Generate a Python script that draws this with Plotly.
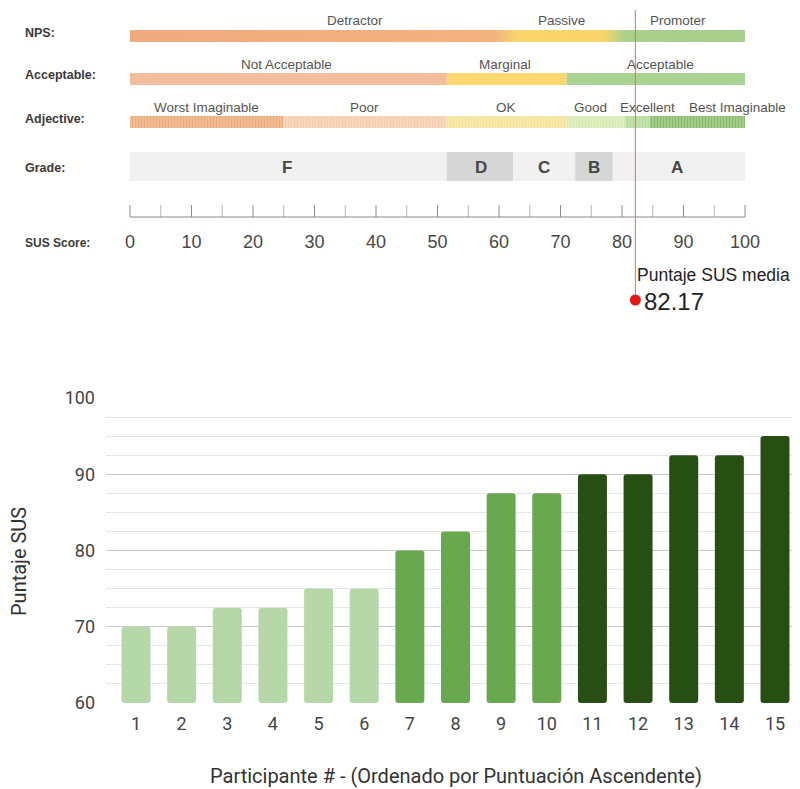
import plotly.graph_objects as go

# ---------------- data ----------------
participants = list(range(1, 16))
sus_scores = [70, 70, 72.5, 72.5, 75, 75, 80, 82.5, 87.5, 87.5, 90, 90, 92.5, 92.5, 95]
bar_colors = ["#B6D7A8"] * 6 + ["#6AA84F"] * 4 + ["#274E13"] * 5
mean_score = round(sum(sus_scores) / len(sus_scores), 2)

scale_ticks_major = list(range(0, 101, 10))
scale_ticks_minor = list(range(5, 100, 10))

nps_labels = ["Detractor", "Passive", "Promoter"]
nps_label_pos = [36.6, 70.1, 89.1]

acc_labels = ["Not Acceptable", "Marginal", "Acceptable"]
acc_start = [0, 51.5, 71]
acc_end = [51.5, 71, 100]
acc_label_pos = [25.5, 61.0, 86.3]
acc_colors = ["#F3BC9A", "#F9D873", "#AAD290"]

adj_labels = ["Worst Imaginable", "Poor", "OK", "Good", "Excellent", "Best Imaginable"]
adj_start = [0, 25, 51.5, 71, 80.5, 84.5]
adj_end = [25, 51.5, 71, 80.5, 84.5, 100]
adj_label_pos = [12.5, 38.2, 61.1, 74.8, 84.1, 98.7]
adj_bg = ["#F2BE98", "#F8D9C2", "#F7EAB0", "#E3EFC4", "#C6E2AE", "#A5CF8C"]
adj_fg = ["#E39A68", "#F1BF9A", "#EFD77E", "#CFE3A6", "#A9D38C", "#6FA653"]

grade_labels = ["F", "D", "C", "B", "A"]
grade_start = [0, 51.5, 62.3, 72.4, 78.5]
grade_end = [51.5, 62.3, 72.4, 78.5, 100]
grade_label_pos = [25.6, 57.0, 67.3, 75.4, 89.0]
grade_colors = ["#F1F1F1", "#D6D6D6", "#F1F1F1", "#D6D6D6", "#F1F1F1"]

row_labels = ["NPS:", "Acceptable:", "Adjective:", "Grade:", "SUS Score:"]

# ---------------- layout geometry (screen pixels) ----------------
OFF = 8                     # default page body margin (top/left)
W, H = 800 - 2 * OFF, 789 - OFF


def px_x(px):
    return (px - OFF) / W


def px_y(py):
    return 1 - (py - OFF) / H


row_y = {"nps": 36, "acc": 79, "adj": 122, "grade": 166.5}
row_h = {"nps": 12, "acc": 12, "adj": 12, "grade": 29}
row_label_y = [33, 75, 119, 168, 243]
band_label_y = {"nps": 20, "acc": 64, "adj": 107}

fig = go.Figure()

# ---------------- bottom bar chart ----------------
fig.add_trace(go.Bar(
    x=participants, y=[s - 60 for s in sus_scores], base=60,
    marker=dict(color=bar_colors, line=dict(width=0), cornerradius=3),
    width=0.635, xaxis="x", yaxis="y", hoverinfo="skip", showlegend=False,
))

# ---------------- top SUS scale ----------------
nps_x = [0, 100, 100, 0, 0]
y0n, y1n = row_y["nps"] - row_h["nps"] / 2, row_y["nps"] + row_h["nps"] / 2
nps_y = [y0n, y0n, y1n, y1n, y0n]
fig.add_trace(go.Scatter(
    x=nps_x, y=nps_y, mode="lines", fill="toself", line=dict(width=0),
    fillgradient=dict(type="horizontal", start=0, stop=100, colorscale=[
        [0.0, "#EFAB7E"], [0.59, "#F3B27E"], [0.63, "#F9D56A"],
        [0.77, "#FAD468"], [0.805, "#A9D18C"], [1.0, "#A7CF8B"]]),
    xaxis="x2", yaxis="y2", hoverinfo="skip", showlegend=False,
))

for s, e, c in zip(acc_start, acc_end, acc_colors):
    fig.add_trace(go.Bar(
        y=[row_y["acc"]], x=[e - s], base=s, orientation="h", width=row_h["acc"],
        marker=dict(color=c, line=dict(width=0)),
        xaxis="x2", yaxis="y2", hoverinfo="skip", showlegend=False,
    ))

for s, e, bg, fg in zip(adj_start, adj_end, adj_bg, adj_fg):
    fig.add_trace(go.Bar(
        y=[row_y["adj"]], x=[e - s], base=s, orientation="h", width=row_h["adj"],
        marker=dict(color=bg, line=dict(width=0),
                    pattern=dict(shape="|", fgcolor=fg, bgcolor=bg, size=3, solidity=0.45)),
        xaxis="x2", yaxis="y2", hoverinfo="skip", showlegend=False,
    ))

for s, e, c in zip(grade_start, grade_end, grade_colors):
    fig.add_trace(go.Bar(
        y=[row_y["grade"]], x=[e - s], base=s, orientation="h", width=row_h["grade"],
        marker=dict(color=c, line=dict(width=0)),
        xaxis="x2", yaxis="y2", hoverinfo="skip", showlegend=False,
    ))

for ticks, col in ((scale_ticks_minor, "#B8B8B8"), (scale_ticks_major, "#8A8A8A")):
    tx, ty = [], []
    for v in ticks:
        tx += [v, v, None]
        ty += [205, 217, None]
    fig.add_trace(go.Scatter(
        x=tx, y=ty, mode="lines", line=dict(color=col, width=1),
        xaxis="x2", yaxis="y2", hoverinfo="skip", showlegend=False,
    ))
fig.add_trace(go.Scatter(
    x=[scale_ticks_major[0], scale_ticks_major[-1]], y=[217, 217], mode="lines",
    line=dict(color="#8A8A8A", width=1),
    xaxis="x2", yaxis="y2", hoverinfo="skip", showlegend=False,
))
fig.add_trace(go.Scatter(
    x=scale_ticks_major, y=[243] * len(scale_ticks_major), mode="text",
    text=[str(v) for v in scale_ticks_major],
    textfont=dict(family="Liberation Sans Narrow, Arial Narrow, sans-serif", size=18, color="#484848"),
    xaxis="x2", yaxis="y2", hoverinfo="skip", showlegend=False,
))

fig.add_trace(go.Scatter(
    x=[mean_score, mean_score], y=[10, 300], mode="lines",
    line=dict(color="#E07070", width=1),
    xaxis="x2", yaxis="y2", hoverinfo="skip", showlegend=False,
))
fig.add_trace(go.Scatter(
    x=[mean_score], y=[300], mode="markers",
    marker=dict(color="#E8161B", size=11, line=dict(width=0)),
    xaxis="x2", yaxis="y2", hoverinfo="skip", showlegend=False,
))

annotations = []
lab_font = dict(family="Liberation Sans, Arial, sans-serif", size=13.5, color="#555555")
for t, x in zip(nps_labels, nps_label_pos):
    annotations.append(dict(x=x, y=band_label_y["nps"], xref="x2", yref="y2", text=t,
                            showarrow=False, font=lab_font))
for t, x in zip(acc_labels, acc_label_pos):
    annotations.append(dict(x=x, y=band_label_y["acc"], xref="x2", yref="y2", text=t,
                            showarrow=False, font=lab_font))
for t, x in zip(adj_labels, adj_label_pos):
    annotations.append(dict(x=x, y=band_label_y["adj"], xref="x2", yref="y2", text=t,
                            showarrow=False, font=lab_font))
for t, x in zip(grade_labels, grade_label_pos):
    annotations.append(dict(x=x, y=row_y["grade"] + 1, xref="x2", yref="y2", text="<b>" + t + "</b>",
                            showarrow=False,
                            font=dict(family="Liberation Sans, Arial, sans-serif", size=17, color="#474747")))
for t, y in zip(row_labels, row_label_y):
    annotations.append(dict(x=px_x(23), y=y, xref="paper", yref="y2", text="<b>" + t + "</b>",
                            showarrow=False, xanchor="left", yanchor="middle",
                            font=dict(family="Liberation Sans, Arial, sans-serif",
                                      size=12.5 if t != "SUS Score:" else 12, color="#3A3A3A")))
annotations.append(dict(x=mean_score, y=275, xref="x2", yref="y2", text="Puntaje SUS media",
                        showarrow=False, xanchor="left", yanchor="middle", xshift=0,
                        font=dict(family="Liberation Sans Narrow, Arial Narrow, sans-serif", size=17.5, color="#222222")))
annotations.append(dict(x=mean_score, y=301, xref="x2", yref="y2", text=f"{mean_score:.2f}",
                        showarrow=False, xanchor="left", yanchor="middle", xshift=7,
                        font=dict(family="Liberation Sans Narrow, Arial Narrow, sans-serif", size=24, color="#222222")))

annotations.append(dict(x=px_x(456), y=px_y(776), xref="paper", yref="paper",
                        text="Participante # - (Ordenado por Puntuación Ascendente)",
                        xanchor="center", yanchor="middle",
                        showarrow=False, font=dict(family="Roboto, Arial, sans-serif", size=20, color="#333333")))
annotations.append(dict(x=px_x(19), y=px_y(562), xref="paper", yref="paper", text="Puntaje SUS",
                        textangle=-90, showarrow=False, xanchor="center", yanchor="middle",
                        font=dict(family="Roboto, Arial, sans-serif", size=20, color="#333333")))

# scale mapping: score 0 -> screen 130px, 100 -> 745px
ppu = (745 - 130) / 100
x2_range = [(OFF - 130) / ppu, (OFF + W - 130) / ppu]

# bar chart mapping: participant 1 -> 136px, 15 -> 775px
step = (775 - 136) / 14
x_left_px, x_right_px = 106, OFF + W
x_range = [1 + (x_left_px - 136) / step, 1 + (x_right_px - 136) / step]

tick_font = dict(family="Roboto, Arial, sans-serif", size=18, color="#444444")

fig.update_layout(
    width=W, height=H,
    margin=dict(l=0, r=0, t=0, b=0, pad=0, autoexpand=False),
    paper_bgcolor="white", plot_bgcolor="rgba(0,0,0,0)",
    barmode="overlay",
    showlegend=False,
    annotations=annotations,
    xaxis=dict(domain=[px_x(x_left_px), 1], range=x_range,
               tickvals=participants, ticktext=[str(p) for p in participants],
               showgrid=False, zeroline=False, showline=False, ticks="",
               ticklabelstandoff=8, automargin=False,
               tickfont=tick_font, anchor="y", fixedrange=True),
    yaxis=dict(domain=[px_y(703), px_y(398)], range=[60, 100], dtick=10,
               showgrid=True, gridcolor="#C8C8C8", gridwidth=1, zeroline=False,
               minor=dict(dtick=2.5, showgrid=True, gridcolor="#E6E6E6", gridwidth=1),
               ticklabelstandoff=10, automargin=False,
               tickfont=tick_font, anchor="x", fixedrange=True),
    xaxis2=dict(domain=[0, 1], range=x2_range, visible=False, anchor="y2", fixedrange=True),
    yaxis2=dict(domain=[0, 1], range=[OFF + H, OFF], visible=False, anchor="x2", fixedrange=True),
)

fig.write_html("out.html")
